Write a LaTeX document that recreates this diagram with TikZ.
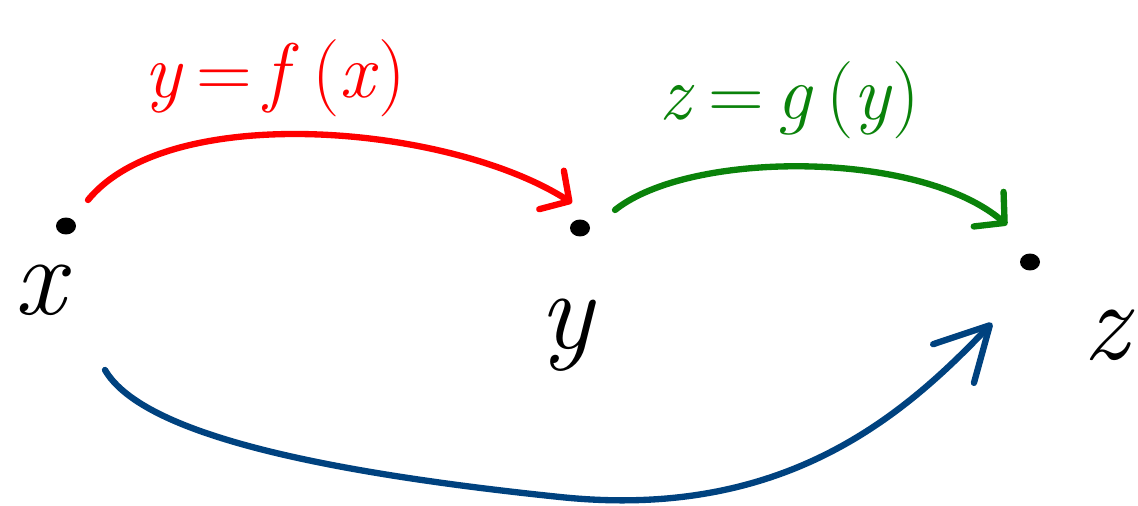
\documentclass[tikz,border=0pt]{standalone}
\usepackage{fontspec}
\usetikzlibrary{positioning, arrows.meta, calc, shapes.geometric}
\usepackage{xcolor}
\definecolor{mapf}{HTML}{FF0000}
\definecolor{mapg}{HTML}{0A820A}
\definecolor{mapc}{HTML}{00427F}

\begin{document}
\begin{tikzpicture}[x=0.02cm, y=-0.02cm,
    pt/.style={ellipse, fill=black, inner sep=0pt, minimum width=0.4cm, minimum height=0.34cm},
    lab/.style={font=\fontsize{64}{68}\selectfont\itshape},
    maplab/.style={font=\fontsize{44}{48}\selectfont},
    arc/.style={line width=3.6pt, line cap=round, line join=round},
    head/.style={-{Straight Barb[length=12pt, width=26pt, round]}},
    bighead/.style={-{Straight Barb[length=30pt, width=32pt, round]}},
]
\useasboundingbox (0,0) rectangle (1138,506);

% ── points ──
\node[pt] (px) at (66,226) {};
\node[pt] (py) at (580,228) {};
\node[pt] (pz) at (1030,262) {};

\node[lab] (lx) at (40,290) {x};
\node[lab] (ly) at (566,335) {y};
\node[lab] (lz) at (1106,335) {z};

% ── maps ──
\node[maplab, text=mapf] (ff) at (275,78) {\textit{y}\,=\,\textit{f}\,(\textit{x})};
\node[maplab, text=mapg] (gg) at (790,100) {\textit{z}\,=\,\textit{g}\,(\textit{y})};

\draw[arc, head, mapf] ($(px)+(22,-26)$) .. controls (170,100) and (450,125) .. ($(py)+(-8,-25)$);
\draw[arc, head, mapg] ($(py)+(35,-18)$) .. controls (690,150) and (920,150) .. ($(pz)+(-23,-37)$);
\draw[arc, bighead, mapc] ($(lx)+(65,80)$) .. controls (140,430) and (300,470) .. (560,497)
    .. controls (780,520) and (900,420) .. ($(pz)+(-38,61)$);

\end{tikzpicture}
\end{document}
